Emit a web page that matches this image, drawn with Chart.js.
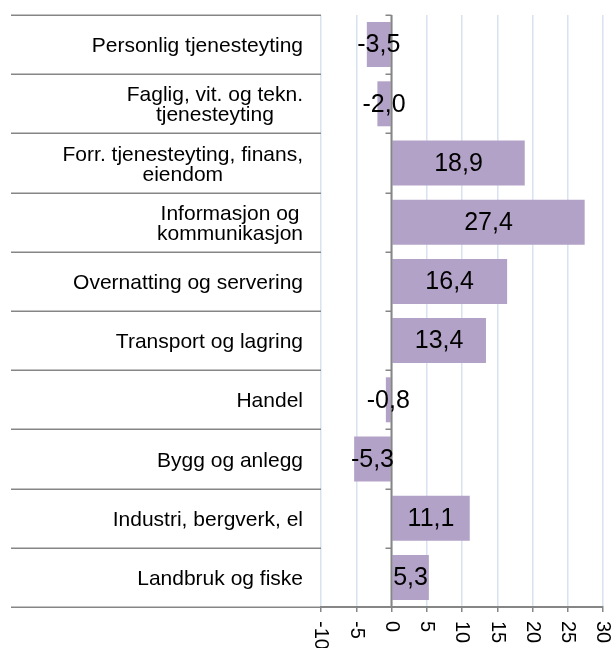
<!DOCTYPE html>
<html>
<head>
<meta charset="utf-8">
<script src="https://cdn.jsdelivr.net/npm/chart.js@4"></script>
<style>
  html, body { margin: 0; padding: 0; background: #fff; }
  canvas { display: block; }
</style>
</head>
<body>
<canvas id="chart" width="612" height="648"></canvas>
<script>
// --- data (top to bottom) ---
const categories = [
    'Personlig tjenesteyting',
    ['Faglig, vit. og tekn.', 'tjenesteyting'],
    ['Forr. tjenesteyting, finans,', 'eiendom'],
    ['Informasjon og', 'kommunikasjon'],
    'Overnatting og servering',
    'Transport og lagring',
    'Handel',
    'Bygg og anlegg',
    'Industri, bergverk, el',
    'Landbruk og fiske'
];
const changes = [-3.5, -2.0, 18.9, 27.4, 16.4, 13.4, -0.8, -5.3, 11.1, 5.3];
const xMin = -10;
const xMax = 30;
const xStep = 5;

const BAR_COLOR = '#b3a2c7';
const GRID_COLOR = '#d8e2f0';
const AXIS_COLOR = '#868686';
const FONT = '"Liberation Sans", Arial, sans-serif';

const fmt = v => v.toFixed(1).replace('.', ',');

// draws the category labels, separators, zero axis and value labels
const decorations = {
    id: 'decorations',
    afterDatasetsDraw(chart) {
        const ctx = chart.ctx;
        const area = chart.chartArea;
        const yScale = chart.scales.y;
        const xScale = chart.scales.x;
        const step = (area.bottom - area.top) / categories.length;
        const zeroX = xScale.getPixelForValue(0);

        ctx.save();
        // separator lines left of the plot + small ticks on the zero axis
        ctx.fillStyle = AXIS_COLOR;
        for (let i = 0; i <= categories.length; i++) {
            const y = Math.round(yScale.getPixelForValue(i) - step / 2);
            ctx.fillRect(11, y - 0.5, area.left - 11, 1.5);
            ctx.fillRect(zeroX - 6, y - 0.5, 6, 1.5);
        }
        // zero axis
        ctx.fillRect(zeroX - 1, area.top, 2, area.bottom - area.top);

        // category labels: block right aligned, lines centred in the block
        ctx.fillStyle = '#000';
        ctx.font = '21px ' + FONT;
        ctx.textAlign = 'center';
        ctx.textBaseline = 'alphabetic';
        const capH = 15, lineH = 20;
        const rightEdge = area.left - 18;
        categories.forEach((label, i) => {
            const lines = Array.isArray(label) ? label : [label];
            const widest = Math.max(...lines.map(l => ctx.measureText(l).width));
            const cx = rightEdge - widest / 2;
            const cy = yScale.getPixelForValue(i);
            const block = capH + (lines.length - 1) * lineH;
            lines.forEach((l, j) => {
                ctx.fillText(l, cx, cy - block / 2 + capH + j * lineH);
            });
        });

        // value labels centred on the bars
        ctx.font = '25px ' + FONT;
        ctx.textBaseline = 'middle';
        chart.getDatasetMeta(0).data.forEach((bar, i) => {
            ctx.fillText(fmt(changes[i]), (bar.x + bar.base) / 2, bar.y + 1);
        });

        // x tick labels, turned clockwise
        ctx.font = '20px ' + FONT;
        ctx.textAlign = 'left';
        for (let v = xMin; v <= xMax; v += xStep) {
            ctx.save();
            ctx.translate(xScale.getPixelForValue(v), area.bottom + 14);
            ctx.rotate(Math.PI / 2);
            ctx.fillText(String(v), 0, 0);
            ctx.restore();
        }
        ctx.restore();
    }
};

new Chart(document.getElementById('chart'), {
    type: 'bar',
    data: {
        labels: categories,
        datasets: [{
            data: changes,
            backgroundColor: BAR_COLOR,
            borderWidth: 0,
            barPercentage: 0.76,
            categoryPercentage: 1
        }]
    },
    options: {
        indexAxis: 'y',
        responsive: false,
        animation: false,
        layout: { padding: { left: 321, right: 9, top: 15, bottom: 36 } },
        plugins: { legend: { display: false }, tooltip: { enabled: false } },
        scales: {
            x: {
                min: xMin,
                max: xMax,
                ticks: { display: false, stepSize: xStep },
                grid: {
                    color: GRID_COLOR,
                    lineWidth: 1.5,
                    tickColor: AXIS_COLOR,
                    tickLength: 5,
                    drawTicks: true
                },
                border: { color: AXIS_COLOR, width: 2 }
            },
            y: {
                display: false
            }
        }
    },
    plugins: [decorations]
});
</script>
</body>
</html>
